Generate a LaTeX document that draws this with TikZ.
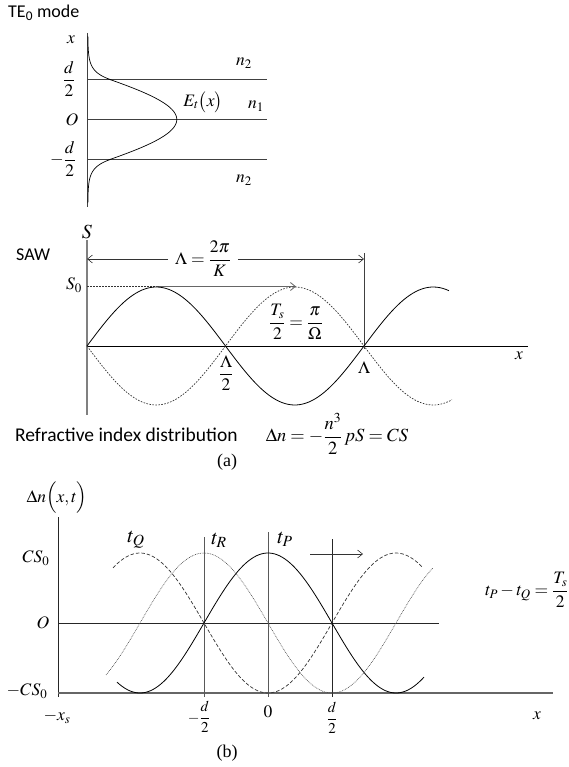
\documentclass[tikz,border=0pt]{standalone}
\usepackage{amsmath}
\usepackage{mathptmx}
\usepackage[no-math]{fontspec}
\setmainfont{Liberation Serif}
\newfontfamily\calib{Carlito}
\usetikzlibrary{arrows.meta}
\begin{document}
\begin{tikzpicture}[x=1pt,y=-1pt,
  lab/.style={font=\fontsize{17.5}{21}\selectfont,inner sep=0pt},
  big/.style={font=\fontsize{21}{25}\selectfont,inner sep=0pt},
  sml/.style={font=\fontsize{15}{18}\selectfont,inner sep=0pt},
  sans/.style={font=\fontsize{18}{21}\selectfont\calib,inner sep=0pt},
  ln/.style={line width=0.8pt,draw=black!75},
  gln/.style={line width=1.2pt,draw=black!50},
  crv/.style={line width=0.8pt,black},
  dotc/.style={line width=0.7pt,black!80,dash pattern=on 1.6pt off 1.4pt},
  dshc/.style={line width=0.7pt,black!80,dash pattern=on 3.5pt off 2pt},
  fdot/.style={line width=0.6pt,black!70,dash pattern=on 0.8pt off 0.9pt},
  arr/.style={line width=0.6pt,black!80,-{Straight Barb[length=5pt,width=8pt]}}]

\useasboundingbox (0,0) rectangle (568,767);

% ---------- TE0 mode ----------
\node[sans,anchor=west] (te) at (8,13) {TE\textsubscript{0} mode};
\coordinate (ax1t) at (87,33);
\coordinate (ax1b) at (87,207);
\draw[ln] (ax1t) -- (ax1b);
\coordinate (h1a) at (87,79.5);  \coordinate (h1b) at (267,79.5);
\coordinate (h2a) at (87,119.5); \coordinate (h2b) at (267,119.5);
\coordinate (h3a) at (87,159.5); \coordinate (h3b) at (267,159.5);
\draw[ln] (h1a) -- (h1b);
\draw[ln] (h2a) -- (h2b);
\draw[ln] (h3a) -- (h3b);
\draw[crv,line width=0.7pt] plot[domain=36:79.5,samples=40] ({87.8+22.4*exp(-0.128*(79.5-\x))},\x)
  -- plot[domain=79.5:159.5,samples=60] ({87.8+89*cos(1.891*(\x-119.5))},\x)
  -- plot[domain=159.5:203,samples=40] ({87.8+22.4*exp(-0.128*(\x-159.5))},\x);
\node[lab] (xa) at (71,40) {$x$};
\node[lab] (dh) at (69,79) {$\dfrac{d}{2}$};
\node[lab] (oo) at (72,119.5) {$O$};
\node[lab] (mdh) at (63,159) {$-\dfrac{d}{2}$};
\node[lab] (n2a) at (244,63) {$n_2$};
\node[lab] (n1) at (256,106) {$n_1$};
\node[lab] (n2b) at (244,180) {$n_2$};
\node[lab] (et) at (203,102) {$E_t\bigl(x\bigr)$};

% ---------- SAW ----------
\node[sans,anchor=west] (saw) at (16,255) {SAW};
\node[lab,font=\fontsize{20}{24}\selectfont] (S) at (87,232) {$S$};
\coordinate (ax2t) at (87,240);
\coordinate (ax2b) at (87,415);
\draw[gln] (ax2t) -- (ax2b);
\coordinate (xa2l) at (87,346);
\coordinate (xa2r) at (528,346);
\draw[line width=0.9pt] (xa2l) -- (xa2r);
\node[lab] (x2) at (519,356) {$x$};
\coordinate (lamT) at (364,253);
\coordinate (lamB) at (364,349);
\draw[ln] (lamT) -- (lamB);
\coordinate (lamL) at (87,259);
\coordinate (lamR) at (364,259);
\node[lab,inner xsep=7pt] (lam) at (203,259) {$\Lambda=\dfrac{2\pi}{K}$};
\draw[arr] (lam.west) -- (lamL);
\draw[arr] (lam.east) -- (lamR);
\node[lab] (s0) at (74,285) {$S_0$};
\coordinate (s0a) at (87,286.5);
\coordinate (s0b) at (156,286.5);
\coordinate (s0c) at (296,286.5);
\draw[dotc] (s0a) -- (s0b);
\draw[arr,black!60,line width=0.8pt] (s0b) -- (s0c);
\draw[crv] plot[domain=87:449,samples=120] (\x,{346-59*sin((\x-87)*1.29964)});
\draw[dotc] plot[domain=87:452,samples=120] (\x,{346+59*sin((\x-87)*1.29964)});
\node[lab] (ts) at (296,322) {$\dfrac{T_s}{2}=\dfrac{\pi}{\Omega}$};
\node[lab] (lh) at (226,373) {$\dfrac{\Lambda}{2}$};
\node[lab] (lm) at (364,368) {$\Lambda$};
\node[sans,font=\fontsize{19.5}{23}\selectfont\calib,anchor=west] (rid) at (15,435) {Refractive index distribution};
\node[lab,font=\fontsize{18.5}{22}\selectfont] (dn) at (337,434) {$\Delta n=-\dfrac{n^3}{2}\,pS=CS$};
\node[lab,font=\fontsize{18}{21}\selectfont] (pa) at (227,462) {(a)};

% ---------- (b) ----------
\node[lab] (dnxt) at (57,498) {$\Delta n\Bigl(x,t\Bigr)$};
\coordinate (ax3t) at (58,517);
\coordinate (ax3b) at (58,697);
\draw[ln,black!85] (ax3t) -- (ax3b);
\coordinate (oal) at (58,623);
\coordinate (oar) at (439,623);
\draw[ln,black!85] (oal) -- (oar);
\coordinate (bal) at (58,693);
\coordinate (bar) at (553,693);
\draw[gln,black!60] (bal) -- (bar);
\coordinate (vat) at (204,537); \coordinate (vab) at (204,697);
\coordinate (vbt) at (268,532); \coordinate (vbb) at (268,697);
\coordinate (vct) at (332,539); \coordinate (vcb) at (332,697);
\draw[ln,black!65] (vat) -- (vab);
\draw[ln,black!65] (vbt) -- (vbb);
\draw[ln,black!85] (vct) -- (vcb);
\coordinate (ara) at (310,554);
\coordinate (arb) at (363,554);
\draw[arr] (ara) -- (arb);
\draw[crv] plot[domain=117:424,samples=120] (\x,{623-70*cos((\x-268)*1.40625)});
\draw[dshc] plot[domain=113:423,samples=120] (\x,{623+70*cos((\x-268)*1.40625)});
\draw[fdot] plot[domain=106:433,samples=120] (\x,{623-70*cos((\x-204)*1.40625)});
\node[lab] (cs0) at (36,558) {$CS_0$};
\node[lab] (ob) at (43,623) {$O$};
\node[lab] (mcs0) at (27,691) {$-CS_0$};
\node[lab] (mxs) at (57,717) {$-x_s$};
\node[big] (tq) at (136,540) {$t_Q$};
\node[big] (tr) at (219,540) {$t_R$};
\node[big] (tp) at (285,539) {$t_P$};
\node[sml] (mdb) at (199,717) {$-\dfrac{d}{2}$};
\node[lab] (zero) at (268,712) {$0$};
\node[sml] (db) at (332,718) {$\dfrac{d}{2}$};
\node[lab] (xb) at (537,716) {$x$};
\node[lab,font=\fontsize{18}{21}\selectfont] (pb) at (227,753) {(b)};
\node[lab,anchor=west] (eq) at (485,590) {$t_P-t_Q=\dfrac{T_s}{2}$};
\end{tikzpicture}
\end{document}
